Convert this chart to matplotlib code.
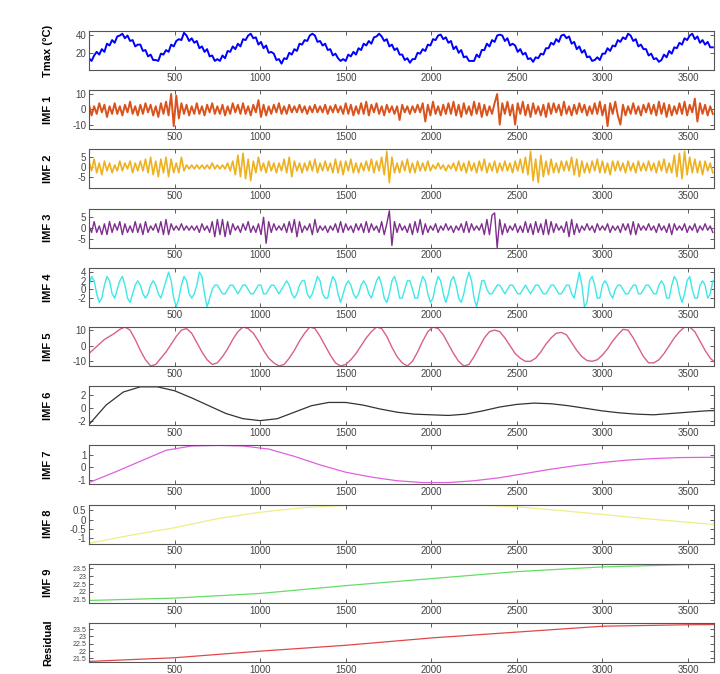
import numpy as np
import matplotlib.pyplot as plt

plt.rcParams['font.family'] = ['Liberation Sans', 'DejaVu Sans']

# daily max temperature, sampled every 15 days
tmax = [14, 11, 17, 21, 18, 24, 21, 30, 28, 34, 31, 38, 39, 41,
        36, 39, 33, 34, 27, 29, 29, 22, 23, 16, 18, 12, 12,
        11, 19, 18, 23, 21, 29, 27, 33, 35, 34, 42,
        39, 33, 36, 31, 33, 25, 27, 21, 24, 16, 17, 11, 13,
        11, 17, 14, 22, 21, 27, 24, 30, 27, 35, 34, 39, 41,
        36, 37, 29, 32, 25, 28, 20, 21, 19, 12, 13, 8,
        14, 13, 20, 18, 24, 22, 30, 29, 34, 33, 39, 41,
        39, 32, 33, 28, 30, 23, 24, 17, 19, 14, 11, 13,
        11, 18, 16, 21, 18, 25, 23, 30, 28, 33, 30, 37, 38, 41,
        38, 33, 35, 27, 29, 23, 25, 18, 18, 12, 14, 9,
        13, 13, 20, 19, 24, 22, 29, 28, 35, 34, 39, 40,
        35, 37, 31, 33, 24, 27, 20, 23, 15, 16, 11, 11,
        11, 18, 15, 23, 23, 30, 27, 34, 32, 39, 40,
        39, 33, 36, 28, 30, 28, 21, 24, 18, 20, 13, 14, 10,
        15, 14, 19, 18, 25, 25, 31, 29, 35, 32, 39, 40,
        36, 38, 30, 32, 24, 27, 20, 23, 15, 16, 11, 12,
        15, 12, 19, 19, 25, 22, 28, 27, 34, 32, 37, 35, 41,
        39, 33, 35, 27, 29, 24, 24, 17, 19, 13, 14, 10,
        12, 18, 15, 22, 19, 26, 25, 31, 29, 36, 34, 39, 41,
        35, 38, 31, 34, 29, 32, 26, 26]

imf1 = [3, -4, 2, -3, 4, -2, 3, -5, 2, -3, 4, -3, 2, -4, 3, -2, 5, -3, 2, -4,
        3, -3, 4, -2, 3, -4, 2, -5, 4, -3, 5, -4, 10, -11, 9, -6, 4, -3, 3, -4,
        2, -3, 4, -3, 2, -4, 3, -2, 4, -3, 2, -3, 3, -4, 2, -3, 4, -2, 3, -3,
        4, -3, 2, -4, 3, -2, 6, -5, 3, -4, 2, -3, 3, -2, 4, -3, 2, -3, 3, -2,
        2, -2, 3, -2, 2, -3, 2, -2, 3, -2, 2, -2, 3, -3, 2, -2, 3, -2, 2, -3,
        4, -3, 3, -4, 2, -3, 4, -3, 5, -4, 3, -2, 4, -3, 2, -4, 3, -2, 2, -3,
        2, -7, 3, -2, 2, -3, 2, -2, 3, -2, 4, -8, 3, -4, 5, -3, 2, -4, 3, -3,
        4, -3, 5, -4, 3, -5, 4, -3, 2, -4, 5, -3, 4, -5, 3, -4, 2, -3, 4, 10,
        -10, 4, -3, 5, -4, 3, -10, 4, -3, 5, -4, 3, -5, 4, -3, 2, -4, 3, -5, 4,
        -3, 4, -2, 3, -4, 5, -3, 2, -4, 3, -3, 4, -2, 3, -4, 2, -3, 4, -3, 5,
        -4, 3, -11, 4, -3, 5, -4, -10, 3, -4, 2, -3, 4, -3, 2, -4, 3, -2, 4, -3,
        3, -4, 5, -3, 4, -5, 3, -4, 2, -3, 4, -3, 5, -4, 3, -2, 7, -8, 4, -3,
        3, -4, 2, -3]

imf2 = [3, -2, 4, -3, 2, -4, 3, -2, 2, -3, 1, -2, 3, -2, 2, -1, 3, -3, 2, -2,
        3, -2, 4, -3, 5, -4, 3, -5, 4, -3, 5, -5, 4, -3, 2, -3, 5, -2, 1, -1,
        1, -1, 1, -1, 1, -1, 1, -1, 2, -1, 1, -1, 1, -1, 2, -2, 3, -4, 6, -5,
        7, -6, 4, -7, 3, -3, 5, -2, 2, -3, 3, -2, 2, -3, 2, -2, 4, -3, 5, -5,
        3, -2, 2, -3, 2, -2, 3, -2, 4, -3, 2, -2, 3, -2, 2, -3, 4, -3, 3, -4,
        3, -2, 4, -3, 2, -3, 2, -2, 3, -2, 4, -3, 3, -2, 5, -4, 8, -8, 5, -3,
        2, -3, 3, -2, 4, -3, 2, -3, 3, -2, 2, -2, 3, -2, 1, -1, 2, -1, 1, -2,
        1, -1, 2, -2, 3, -2, 2, -3, 3, -2, 2, -3, 3, -2, 4, -3, 2, -2, 3, -3,
        2, -2, 3, -2, 2, -3, 3, -2, 4, -3, 5, -4, 8, -7, 4, -8, 6, -5, 3, -4,
        4, -3, 2, -3, 3, -2, 3, -2, 5, -4, 4, -5, 3, -3, 2, -3, 3, -2, 4, -3,
        3, -3, 2, -4, 3, -2, 3, -2, 2, -3, 3, -2, 2, -3, 3, -2, 2, -2, 3, -2,
        2, -3, 3, -2, 4, -3, 2, -3, 6, -5, 7, -6, 8, -4, 5, -3, 4, -3, 3, -4,
        3, -2, 2, -3]

imf3 = [1, -2, 3, -2, 1, -3, 2, -3, 3, -2, 2, -1, 3, -3, 2, -2, 1, -2, 3, -2,
        2, -3, 3, -2, 1, -1, 2, -2, 3, -3, 4, -3, 2, -1, 1, -1, 2, -1, 1, -1,
        1, -1, 1, -2, 2, -1, 1, -2, 3, -4, 4, -3, 4, -4, 3, -3, 2, -1, 1, -2,
        2, -1, 3, -2, 1, -2, 2, -3, 5, -7, 3, -2, 2, -1, 1, -1, 2, -2, 3, -2,
        4, -4, 3, -2, 1, -1, 2, -3, 4, -2, 1, -1, 1, -2, 1, -1, 2, -2, 3, -2,
        2, -1, 1, -2, 2, -1, 2, -2, 3, -2, 2, -1, 1, -2, 3, -3, 2, 8, -8, 3,
        -2, 2, -1, 1, -2, 2, -3, 3, -2, 4, -3, 2, -2, 1, -1, 2, -2, 1, -1, 2,
        -1, 1, -2, 1, -1, 2, -2, 3, -2, 2, -1, 1, -1, 2, -3, 4, -3, 6, 7, -9,
        4, -3, 2, -2, 1, -1, 2, -2, 1, -2, 3, -2, 2, -3, 3, -2, 2, -3, 4, -3,
        3, -2, 2, -1, 1, -2, 3, -4, 4, -3, 2, -2, 1, -1, 2, -1, 1, -2, 2, -1,
        1, -1, 2, -2, 1, -1, 1, -2, 2, -1, 2, -3, 3, -3, 2, -1, 1, -1, 2, -1,
        1, -2, 2, -1, 1, -2, 2, -3, 2, -1, 1, -1, 2, -2, 1, -1, 2, -2, 1, -1,
        2, -1, 1, -2]

imf4 = [1, 3, 2, -1, -3, -2, 1, 3, 2, -1, -2, 0, 2, 3, 1, -2, -3, -1, 1, 2, 1, -1, -2, -1,
        1, 2, 1, -1, -2, 0, 2, 4, 2, -2, -4, -2, 1, 3, 2, -1, -2, -1, 1, 4, 3, -1, -4, -2,
        0, 1, 1, 0, -1, -1, 0, 1, 1, 0, -1, 0, 1, 1, 0, -1, -1, 0, 1, 1, -1, -1, 0, 1,
        1, 0, -1, 0, 1, 2, 1, -1, -2, -1, 1, 2, 2, -1, -2, -1, 1, 3, 2, -1, -2, -2, 1, 3,
        2, -1, -3, -1, 1, 2, 1, -1, -2, -1, 1, 2, 1, -1, -2, 0, 2, 3, 1, -2, -3, -1, 2, 3,
        1, -2, -2, 0, 2, 2, 0, -2, -2, 1, 3, 2, -1, -3, -2, 1, 3, 2, -1, -3, -1, 2, 3, 1,
        -2, -3, -1, 2, 4, 2, -2, -4, -1, 2, 2, 0, -1, -1, 0, 1, 1, 0, -1, 0, 1, 1, 0, -1,
        -1, 0, 1, 0, -1, 0, 1, 1, 0, -1, -1, 0, 1, 1, 0, -1, -1, 0, 1, 1, -1, -2, 1, 4,
        1, -4, -3, 2, 3, 1, -2, -2, 1, 2, 1, -1, -2, 0, 1, 1, 0, -1, -1, 0, 1, 1, -1, -1,
        0, 1, 1, 0, -1, -1, 1, 2, 1, -2, -2, 1, 3, 2, -1, -3, -1, 2, 3, 0, -2, -2, 1, 2,
        1, -2, -1, 2]

# every 30 days
imf5 = [-5, -2, 1, 4, 6, 8, 10.5, 12, 10, 4, -3, -9, -13, -12, -8, -4, 1, 6, 10, 11,
        8, 2, -4, -9, -12, -11, -7, -2, 4, 9, 12, 11, 8, 3, -3, -8, -11, -13, -12, -8,
        -3, 3, 8, 12, 11, 6, 0, -6, -11, -13, -12, -9, -5, 0, 5, 9, 12, 11, 6, -1,
        -7, -11, -13, -10, -4, 3, 9, 12, 11, 7, 1, -5, -10, -13, -12, -7, -1, 5, 9, 10,
        9, 5, 0, -5, -8, -10, -10, -8, -4, 1, 5, 8, 8.5, 7, 2, -3, -7, -9.5, -10, -9,
        -6, -2, 3, 7, 10.5, 10, 5, -1, -7, -11, -11, -9, -5, 0, 5, 9, 12, 12, 9, 3,
        -3, -8, -11]

# every 100 days
imf6 = [-2.5, 0.5, 2.5, 3.3, 3.3, 2.7, 1.6, 0.4, -0.8, -1.6, -1.9, -1.6, -0.6, 0.4,
        0.9, 0.9, 0.5, -0.1, -0.6, -0.9, -1.0, -1.1, -0.9, -0.4, 0.2, 0.6, 0.8, 0.7,
        0.4, 0.0, -0.4, -0.7, -0.9, -1.0, -0.8, -0.6, -0.4, -0.3]

# every 150 days
imf7 = [-1.25, -0.4, 0.5, 1.4, 1.75, 1.8, 1.75, 1.5, 0.9, 0.2, -0.4, -0.8, -1.1,
        -1.25, -1.25, -1.1, -0.85, -0.5, -0.15, 0.15, 0.4, 0.6, 0.72, 0.8, 0.82, 0.82]

# every 250 days
imf8 = [-1.3, -0.85, -0.45, 0.05, 0.4, 0.65, 0.78, 0.82, 0.84, 0.8, 0.7, 0.5,
        0.28, 0.05, -0.15, -0.35]

# every 500 days
imf9 = [21.45, 21.6, 21.9, 22.4, 22.85, 23.3, 23.6, 23.75, 23.8]
residual = [21.3, 21.55, 22.0, 22.4, 22.9, 23.3, 23.7, 23.8, 23.85]

series = [
    ('Tmax (°C)', tmax, 15, 'blue', (1, 44), [20, 40], 1.4),
    ('IMF 1', imf1, 15, '#D9531E', (-13, 12.5), [-10, 0, 10], 1.4),
    ('IMF 2', imf2, 15, '#EDB120', (-11, 9), [-5, 0, 5], 1.2),
    ('IMF 3', imf3, 15, '#7E2F8E', (-9, 9), [-5, 0, 5], 1.0),
    ('IMF 4', imf4, 15, '#3EE8E8', (-4, 5), [-2, 0, 2, 4], 1.0),
    ('IMF 5', imf5, 30, '#D9608A', (-13, 12), [-10, 0, 10], 1.0),
    ('IMF 6', imf6, 100, '#333333', (-2.6, 3.4), [-2, 0, 2], 0.9),
    ('IMF 7', imf7, 150, '#E060E0', (-1.4, 1.8), [-1, 0, 1], 0.9),
    ('IMF 8', imf8, 250, '#EEEE88', (-1.32, 0.82), [-1, -0.5, 0, 0.5], 0.9),
    ('IMF 9', imf9, 500, '#66DD66', (21.3, 23.8), [21.5, 22, 22.5, 23, 23.5], 0.9),
    ('Residual', residual, 500, '#E04848', (21.26, 23.92), [21.5, 22, 22.5, 23, 23.5], 0.9),
]

W, H = 720, 674
fig = plt.figure(figsize=(W / 100, H / 100), dpi=100)

left, width = 89, 625
top0, pitch, h = 31, 59.2, 39

for k, (name, vals, step, color, ylim, yticks, lw) in enumerate(series):
    top = top0 + k * pitch
    ax = fig.add_axes([left / W, 1 - (top + h) / H, width / W, h / H])
    days = np.arange(len(vals)) * step
    ax.plot(days, vals, color=color, lw=lw)
    ax.set_xlim(0, 3652)
    ax.set_ylim(*ylim)
    ax.set_xticks([500, 1000, 1500, 2000, 2500, 3000, 3500])
    ax.set_yticks(yticks)
    ax.set_yticklabels([('%g' % t) for t in yticks])
    ax.tick_params(direction='in', length=3, width=0.6, top=True, right=True,
                   labelsize=7, labelcolor='#444444', color='#444444', pad=2)
    if len(yticks) > 4:
        ax.tick_params(axis='y', labelsize=5)
    for sp in ax.spines.values():
        sp.set_color('#555555')
        sp.set_linewidth(0.8)
    ax.set_ylabel(name, fontsize=8, fontweight='bold')
    ax.yaxis.set_label_coords(-0.058, 0.5)

fig.savefig('out.png', dpi=100)
